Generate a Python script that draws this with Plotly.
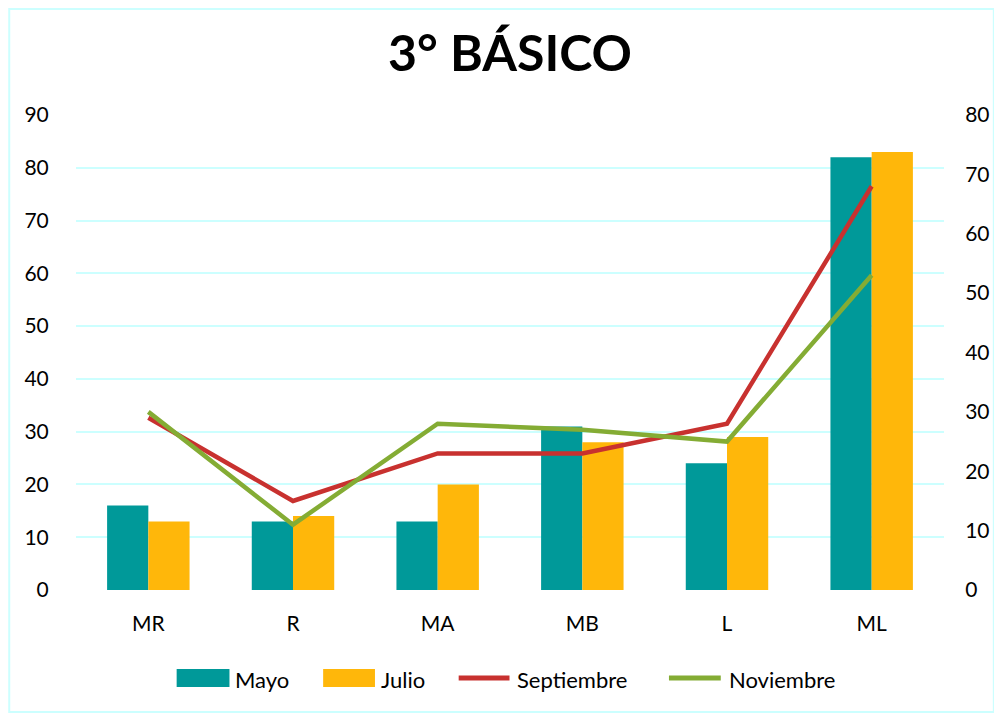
import plotly.graph_objects as go

categories = ["MR", "R", "MA", "MB", "L", "ML"]
mayo = [16, 13, 13, 31, 24, 82]
julio = [13, 14, 20, 28, 29, 83]
septiembre = [29, 15, 23, 23, 28, 68]
noviembre = [30, 11, 28, 27, 25, 53]

FONT = "Lato"
TEAL, GOLD, RED, GREEN = "#009999", "#FFB70A", "#C8312F", "#84AC34"
GRID = "#CCFFFF"

# page has an 8px body margin; size figure to fit the window
OFF = 8
W, H = 994, 707
ML_, MR_, MT, MB_ = 68, 55, 107, 125
pw = W - ML_ - MR_
ph = H - MT - MB_


def px(xpage):
    return (xpage - OFF - ML_) / pw


def py(ypage):
    return (H - MB_ - (ypage - OFF)) / ph


fig = go.Figure()
fig.add_trace(go.Bar(x=categories, y=mayo, name="Mayo", marker_color=TEAL,
                     marker_line_width=0, showlegend=False))
fig.add_trace(go.Bar(x=categories, y=julio, name="Julio", marker_color=GOLD,
                     marker_line_width=0, showlegend=False))
fig.add_trace(go.Scatter(x=categories, y=septiembre, name="Septiembre", mode="lines",
                         line=dict(color=RED, width=4.5), yaxis="y2", showlegend=False))
fig.add_trace(go.Scatter(x=categories, y=noviembre, name="Noviembre", mode="lines",
                         line=dict(color=GREEN, width=4.5), yaxis="y2", showlegend=False))

# chart border
fig.add_shape(type="rect", xref="paper", yref="paper",
              x0=px(OFF + 1), x1=px(997), y0=py(712), y1=py(OFF + 1),
              line=dict(color=GRID, width=2), layer="below")

# custom legend (wide swatches like the original)
legend_y = 678
legend_items = [
    ("Mayo", TEAL, "rect", 177, 230),
    ("Julio", GOLD, "rect", 324, 376),
    ("Septiembre", RED, "line", 458, 513),
    ("Noviembre", GREEN, "line", 669, 725),
]
for name, color, kind, x0, x1 in legend_items:
    if kind == "rect":
        fig.add_shape(type="rect", xref="paper", yref="paper",
                      x0=px(x0), x1=px(x1), y0=py(legend_y + 9), y1=py(legend_y - 9),
                      fillcolor=color, line=dict(width=0))
    else:
        fig.add_shape(type="line", xref="paper", yref="paper",
                      x0=px(x0 + 2), x1=px(x1 - 2), y0=py(legend_y), y1=py(legend_y),
                      line=dict(color=color, width=5))
    fig.add_annotation(text=name, xref="paper", yref="paper", x=px(x1 + 4), y=py(legend_y + 1),
                       xanchor="left", yanchor="middle", showarrow=False,
                       font=dict(family=FONT, size=22, color="black"))

fig.update_layout(
    width=W, height=H,
    margin=dict(l=ML_, r=MR_, t=MT, b=MB_),
    paper_bgcolor="white", plot_bgcolor="white",
    title=dict(text="<b>3° BÁSICO</b>", x=(510 - OFF) / W, xanchor="center", y=1 - 45 / H,
               yanchor="middle", font=dict(family=FONT, size=50, color="black")),
    font=dict(family=FONT, size=21, color="black"),
    showlegend=False,
    barmode="group", bargap=0.43, bargroupgap=0,
    xaxis=dict(showgrid=False, showline=False, ticks="outside", ticklen=15, tickcolor="white",
               tickfont=dict(size=21)),
    yaxis=dict(range=[0, 90], dtick=10, showgrid=True, gridcolor=GRID, gridwidth=2,
               zeroline=False, showline=False, ticks="outside", ticklen=22, tickcolor="white",
               tickfont=dict(size=21)),
    yaxis2=dict(range=[0, 80], dtick=10, overlaying="y", side="right", showgrid=False,
                zeroline=False, showline=False, ticks="outside", ticklen=16, tickcolor="white",
                tickfont=dict(size=21)),
)

fig.write_html("out.html")
